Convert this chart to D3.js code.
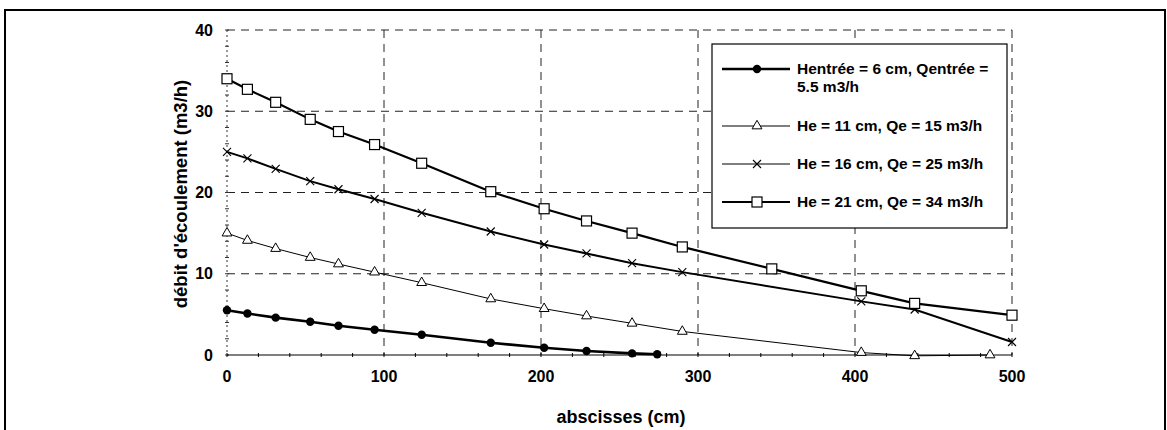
<!DOCTYPE html>
<html>
<head>
<meta charset="utf-8">
<script src="https://cdn.jsdelivr.net/npm/d3@7"></script>
<style>
  html, body { margin: 0; padding: 0; background: #fff; }
  svg { display: block; }
  text { font-family: "Liberation Sans", Arial, sans-serif; font-weight: bold; fill: #000; }
</style>
</head>
<body>
<svg id="chart" width="1167" height="430"></svg>
<script>
// ---- data ----
const xTicks = [0, 100, 200, 300, 400, 500];
const yTicks = [0, 10, 20, 30, 40];
const seriesNames = [
  "Hentrée = 6 cm, Qentrée = 5.5 m3/h",
  "He = 11 cm, Qe = 15 m3/h",
  "He = 16 cm, Qe = 25 m3/h",
  "He = 21 cm, Qe = 34 m3/h"
];
const xHe6  = [0, 13, 31, 53, 71, 94, 124, 168, 202, 229, 258, 274];
const qHe6  = [5.5, 5.1, 4.6, 4.1, 3.6, 3.1, 2.5, 1.5, 0.9, 0.5, 0.2, 0.1];
const xHe11 = [0, 13, 31, 53, 71, 94, 124, 168, 202, 229, 258, 290, 404, 438, 486];
const qHe11 = [15.0, 14.1, 13.1, 12.0, 11.2, 10.2, 8.9, 6.9, 5.7, 4.8, 3.9, 2.9, 0.3, -0.1, 0.0];
const xHe16 = [0, 13, 31, 53, 71, 94, 124, 168, 202, 229, 258, 290, 404, 438, 500];
const qHe16 = [25.0, 24.2, 22.9, 21.4, 20.4, 19.2, 17.5, 15.2, 13.6, 12.5, 11.3, 10.2, 6.6, 5.6, 1.6];
const xHe21 = [0, 13, 31, 53, 71, 94, 124, 168, 202, 229, 258, 290, 347, 404, 438, 500];
const qHe21 = [34.0, 32.7, 31.1, 29.0, 27.5, 25.9, 23.6, 20.1, 18.0, 16.5, 15.0, 13.3, 10.6, 7.9, 6.35, 4.9];
const xLabel = "abscisses (cm)";
const yLabel = "débit d'écoulement (m3/h)";

// ---- layout ----
const svg = d3.select("#chart");
const pLeft = 227, pRight = 1012, pTop = 30, pBottom = 355;
const x = d3.scaleLinear().domain([0, 500]).range([pLeft, pRight]);
const y = d3.scaleLinear().domain([0, 40]).range([pBottom, pTop]);

// outer frame
svg.append("rect").attr("x", 5).attr("y", 10).attr("width", 1160).attr("height", 430)
  .attr("fill", "none").attr("stroke", "#000").attr("stroke-width", 2);

// grid
const grid = svg.append("g");
grid.selectAll("line.h").data(yTicks.filter(d => d > 0)).join("line")
  .attr("x1", pLeft).attr("x2", pRight).attr("y1", d => y(d)).attr("y2", d => y(d))
  .attr("stroke", "#222").attr("stroke-width", 1).attr("stroke-dasharray", "8,6");
grid.selectAll("line.v").data(xTicks.filter(d => d > 0)).join("line")
  .attr("x1", d => x(d)).attr("x2", d => x(d)).attr("y1", pTop).attr("y2", pBottom)
  .attr("stroke", "#222").attr("stroke-width", 1).attr("stroke-dasharray", "8,6");

// left axis (dotted) with minor ticks
svg.append("line").attr("x1", pLeft).attr("x2", pLeft).attr("y1", pTop).attr("y2", pBottom)
  .attr("stroke", "#333").attr("stroke-width", 1).attr("stroke-dasharray", "2,3");
const yMinor = d3.range(0, 40.01, 2);
svg.append("g").selectAll("line").data(yMinor).join("line")
  .attr("x1", pLeft - 2).attr("x2", pLeft + 2).attr("y1", d => y(d)).attr("y2", d => y(d))
  .attr("stroke", "#333").attr("stroke-width", 1);

// bottom axis
svg.append("line").attr("x1", pLeft).attr("x2", pRight).attr("y1", pBottom).attr("y2", pBottom)
  .attr("stroke", "#000").attr("stroke-width", 1.2);
const xMinor = d3.range(0, 500.01, 20);
svg.append("g").selectAll("line").data(xMinor).join("line")
  .attr("x1", d => x(d)).attr("x2", d => x(d)).attr("y1", pBottom - 2).attr("y2", pBottom + 2)
  .attr("stroke", "#000").attr("stroke-width", 1);

// tick labels
svg.append("g").selectAll("text").data(yTicks).join("text")
  .attr("x", 213).attr("y", d => y(d)).attr("dy", "0.35em")
  .attr("text-anchor", "end").attr("font-size", 16).text(d => d);
svg.append("g").selectAll("text").data(xTicks).join("text")
  .attr("x", d => x(d)).attr("y", 382)
  .attr("text-anchor", "middle").attr("font-size", 16).text(d => d);

// axis titles
svg.append("text").attr("x", 621).attr("y", 423).attr("text-anchor", "middle")
  .attr("font-size", 18).text(xLabel);
svg.append("text").attr("transform", "translate(187,194) rotate(-90)")
  .attr("text-anchor", "middle").attr("font-size", 18.5).text(yLabel);

// series
const series = [
  { xs: xHe6,  ys: qHe6,  width: 2.6, marker: "circle" },
  { xs: xHe11, ys: qHe11, width: 1,   marker: "triangle" },
  { xs: xHe16, ys: qHe16, width: 2,   marker: "cross" },
  { xs: xHe21, ys: qHe21, width: 2.2, marker: "square" }
];
const line = d3.line().x(d => x(d[0])).y(d => y(d[1]));

function drawMarker(g, type, px, py) {
  if (type === "circle") {
    g.append("circle").attr("cx", px).attr("cy", py).attr("r", 4.2).attr("fill", "#000");
  } else if (type === "triangle") {
    g.append("path").attr("d", d3.symbol().type(d3.symbolTriangle).size(42)())
      .attr("transform", `translate(${px},${py})`)
      .attr("fill", "#fff").attr("stroke", "#000").attr("stroke-width", 1);
  } else if (type === "cross") {
    const s = 4;
    g.append("path").attr("d", `M${px - s},${py - s}L${px + s},${py + s}M${px - s},${py + s}L${px + s},${py - s}`)
      .attr("stroke", "#000").attr("stroke-width", 1.1).attr("fill", "none");
  } else if (type === "square") {
    g.append("rect").attr("x", px - 5).attr("y", py - 5).attr("width", 10).attr("height", 10)
      .attr("fill", "#fff").attr("stroke", "#000").attr("stroke-width", 1.2);
  }
}

series.forEach(s => {
  const pts = s.xs.map((v, i) => [v, s.ys[i]]);
  const g = svg.append("g");
  g.append("path").datum(pts).attr("d", line)
    .attr("fill", "none").attr("stroke", "#000").attr("stroke-width", s.width);
  pts.forEach(p => drawMarker(g, s.marker, x(p[0]), y(p[1])));
});

// legend
const lg = svg.append("g");
lg.append("rect").attr("x", 712).attr("y", 44).attr("width", 295).attr("height", 184)
  .attr("fill", "#fff").attr("stroke", "#000").attr("stroke-width", 1.2);
const rowY = [69, 126, 164, 202];
const legendWidths = [2.4, 1, 1.2, 2];
series.forEach((s, i) => {
  const yy = rowY[i];
  lg.append("line").attr("x1", 722).attr("x2", 790).attr("y1", yy).attr("y2", yy)
    .attr("stroke", "#000").attr("stroke-width", legendWidths[i]);
  drawMarker(lg, s.marker, 757, yy);
});
lg.append("text").attr("x", 797).attr("y", 69).attr("dy", "0.35em").attr("font-size", 15.5)
  .text("Hentrée = 6 cm, Qentrée =");
lg.append("text").attr("x", 797).attr("y", 87).attr("dy", "0.35em").attr("font-size", 15.5).text("5.5 m3/h");
[1, 2, 3].forEach(i => {
  lg.append("text").attr("x", 797).attr("y", rowY[i]).attr("dy", "0.35em")
    .attr("font-size", 15.5).text(seriesNames[i]);
});
</script>
</body>
</html>
